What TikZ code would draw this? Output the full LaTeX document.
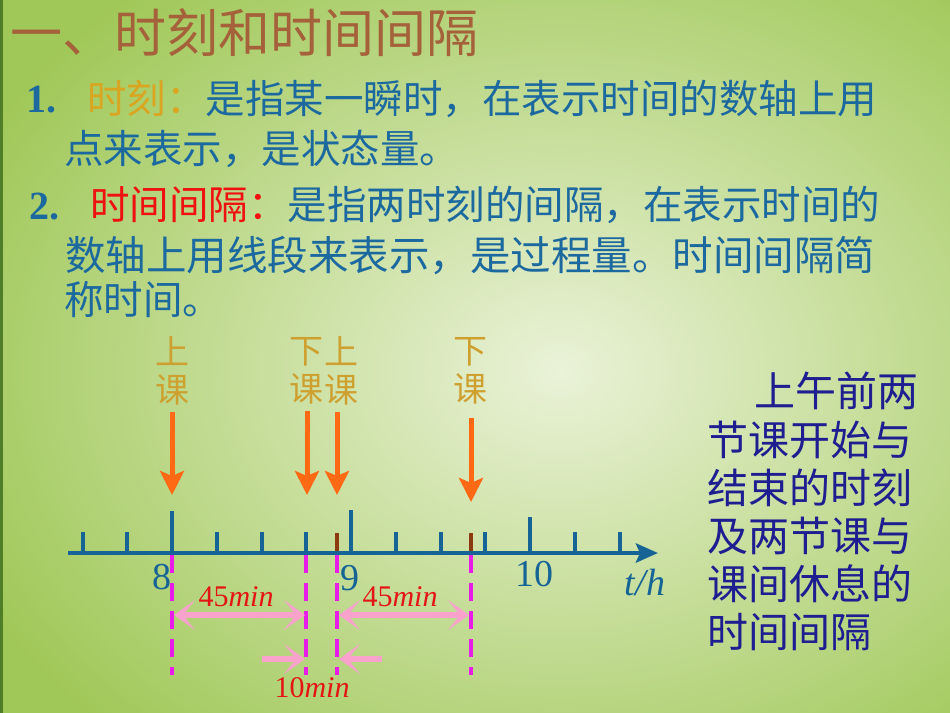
\documentclass[tikz,border=0pt]{standalone}
\usepackage{fontspec}
\setmainfont{Liberation Serif}
\newfontfamily\cjk{Noto Sans CJK SC}
\usetikzlibrary{arrows.meta,positioning,calc}

\definecolor{bggreen}{RGB}{160,200,88}
\definecolor{bglight}{RGB}{234,242,216}
\definecolor{edgegreen}{RGB}{80,125,40}
\definecolor{titlebrown}{RGB}{165,98,58}
\definecolor{bodyblue}{RGB}{28,105,160}
\definecolor{keygold}{RGB}{218,165,32}
\definecolor{keyred}{RGB}{240,16,16}
\definecolor{lblgold}{RGB}{205,160,48}
\definecolor{axisblue}{RGB}{22,100,150}
\definecolor{tickbrown}{RGB}{140,58,16}
\definecolor{arrorange}{RGB}{255,105,20}
\definecolor{dashmag}{RGB}{232,28,232}
\definecolor{spanpink}{RGB}{248,162,204}
\definecolor{minred}{RGB}{228,20,20}
\definecolor{notenavy}{RGB}{30,30,145}

\newcommand{\setfs}[2]{\fontsize{#1}{#2}\selectfont}

\begin{document}
\begin{tikzpicture}[x=1pt,y=-1pt,
    bodytxt/.style={inner sep=0pt,anchor=west,text=bodyblue,font=\cjk\setfs{39.5}{39.5}},
    numtxt/.style={inner sep=0pt,anchor=west,text=bodyblue,font=\bfseries\setfs{40}{40}},
    evlabel/.style={inner sep=0pt,align=center,text=lblgold,font=\cjk\setfs{34}{38}},
    hourtxt/.style={inner sep=0pt,text=axisblue,font=\setfs{38}{38}},
    mintxt/.style={inner sep=0pt,text=minred,font=\setfs{30}{30}},
    axisline/.style={draw=axisblue,line width=4.5pt,-{Stealth[length=22pt,width=19pt,inset=4pt]}},
    tickline/.style={draw=axisblue,line width=4pt},
    momtick/.style={draw=tickbrown,line width=4pt},
    downarrow/.style={draw=arrorange,line width=5pt,-{Stealth[length=24pt,width=24pt,inset=5pt]}},
    dashline/.style={draw=dashmag,line width=4pt,dash pattern=on 18pt off 10pt},
    spanarrow/.style={draw=spanpink,line width=5.5pt,-{Stealth[length=21pt,width=30pt,inset=12pt]}},
    spanboth/.style={spanarrow,{Stealth[length=21pt,width=30pt,inset=12pt]}-{Stealth[length=21pt,width=30pt,inset=12pt]}}]
    \useasboundingbox (0,0) rectangle (950,712);
    % background
    \fill[bggreen] (-5,-5) rectangle (955,717);
    \shade[inner color=bglight,outer color=bggreen] (560,370) ellipse [x radius=650pt,y radius=500pt];
    \fill[edgegreen] (-5,-5) rectangle (3,717);

    % title and definitions
    \node[inner sep=0pt,anchor=west,text=titlebrown,font=\cjk\setfs{52}{52}] (title) at (10,33) {一、时刻和时间间隔};
    \node[numtxt] (num1) at (26,100) {1.};
    \node[bodytxt] (def1) at (87,99) {{\color{keygold}时刻：}是指某一瞬时，在表示时间的数轴上用};
    \node[bodytxt] (def1b) at (64,149) {点来表示，是状态量。};
    \node[numtxt] (num2) at (29,207) {2.};
    \node[bodytxt] (def2) at (90,205) {{\color{keyred}时间间隔：}是指两时刻的间隔，在表示时间的};
    \node[bodytxt,font=\cjk\setfs{40.5}{40.5}] (def2b) at (65,256) {数轴上用线段来表示，是过程量。时间间隔简};
    \node[bodytxt] (def2c) at (64,300) {称时间。};

    % time axis
    \coordinate (axL) at (68,553);
    \coordinate (axR) at (658,553);
    \foreach \i/\h in {0/532,1/532,2/511,3/532,4/532,5/532,6/510,7/532,8/532,9/532,10/517,11/532,12/532}
        \draw[tickline] ({172+44.75*(\i-2)},553) coordinate (k\i) -- ++(0,{\h-553});
    \coordinate (m1) at (337,553);
    \coordinate (m2) at (471,553);
    \draw[momtick] (m1) -- ++(0,-20);
    \draw[momtick] (m2) -- ++(0,-20);
    \draw[axisline] (axL) -- (axR);
    \node[hourtxt] (h8) at (162,577) {8};
    \node[hourtxt] (h9) at (350,578) {9};
    \node[hourtxt] (h10) at (534,574) {10};
    \node[hourtxt] (unit) at (645,582) {\textit{t/h}};

    % class begin / end
    \node[evlabel] (on1) at (172,371) {上\\课};
    \node[evlabel] (off1) at (306,371) {下\\课};
    \node[evlabel] (on2) at (341,371) {上\\课};
    \node[evlabel] (off2) at (470,371) {下\\课};
    \coordinate (tip1) at (172,495);
    \coordinate (tip2) at (307,495);
    \coordinate (tip3) at (337,495);
    \coordinate (tip4) at (471,502);
    \draw[downarrow] ($(tip1 |- on1.south)+(0,6)$) -- (tip1);
    \draw[downarrow] ($(tip2 |- off1.south)+(0,6)$) -- (tip2);
    \draw[downarrow] ($(tip3 |- on2.south)+(0,6)$) -- (tip3);
    \draw[downarrow] ($(tip4 |- off2.south)+(0,13)$) -- (tip4);

    % intervals
    \foreach \c in {k2,k5,m1,m2}
        \draw[dashline] ($(\c)+(0,2)$) -- ($(\c)+(0,122)$);
    \coordinate (a1) at (174,615);
    \coordinate (a2) at (305,615);
    \coordinate (a3) at (339,615);
    \coordinate (a4) at (469,615);
    \draw[spanboth] (a1) -- (a2);
    \draw[spanboth] (a3) -- (a4);
    \node[mintxt] (lab45a) at (236,597) {45\textit{min}};
    \node[mintxt] (lab45b) at (400,597) {45\textit{min}};
    \coordinate (b1) at (262,659);
    \coordinate (b2) at (305,659);
    \coordinate (b3) at (382,659);
    \coordinate (b4) at (339,659);
    \draw[spanarrow] (b1) -- (b2);
    \draw[spanarrow] (b3) -- (b4);
    \node[mintxt] (lab10) at (312,688) {10\textit{min}};

    % note on the right
    \node[inner sep=0pt,anchor=north west,align=left,text=notenavy,font=\cjk\setfs{41}{48.2}] (note) at (707,372)
        {\hspace*{47pt}上午前两\\节课开始与\\结束的时刻\\及两节课与\\课间休息的\\时间间隔};
\end{tikzpicture}
\end{document}
